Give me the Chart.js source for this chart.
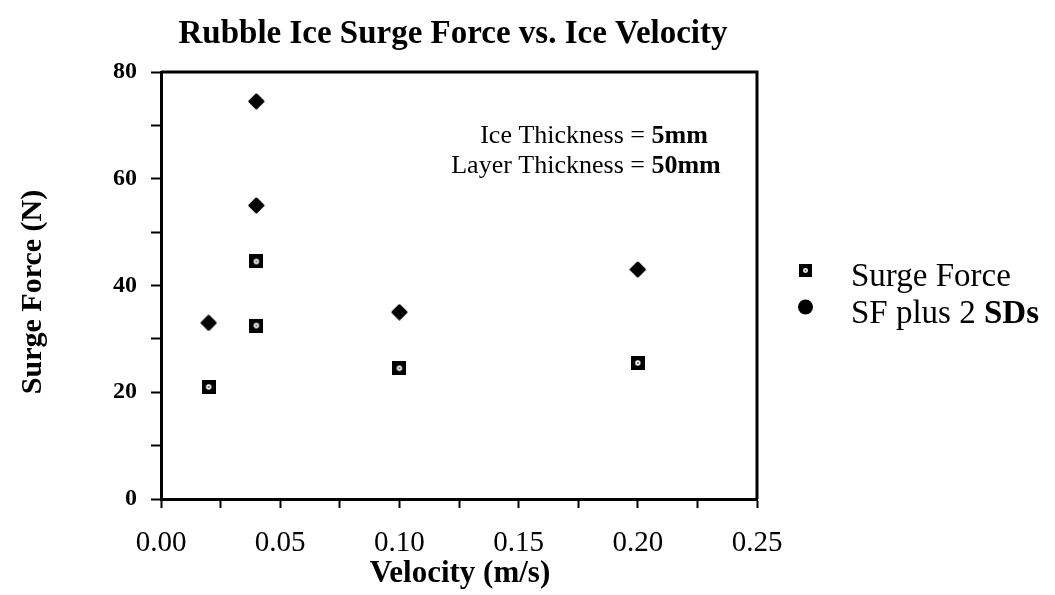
<!DOCTYPE html>
<html>
<head>
<meta charset="utf-8">
<script src="https://cdn.jsdelivr.net/npm/chart.js@4"></script>
<style>
  body { margin: 0; background: #fff; }
  #wrap { width: 1055px; height: 595px; }
</style>
</head>
<body>
<div id="wrap"><canvas id="surgeChart" width="1055" height="595"></canvas></div>
<script>
// Data
const velocities = [0.02, 0.04, 0.04, 0.10, 0.20];
const surgeForce = [21, 32.5, 44.5, 24.5, 25.5];
const sfPlus2SD = [33, 55, 74.5, 35, 43];
const xTickLabels = ['0.00', '0.05', '0.10', '0.15', '0.20', '0.25'];
const yTickLabels = [0, 20, 40, 60, 80];
const seriesNames = ['Surge Force', 'SF plus 2 SDs'];

const serif = '"Liberation Serif", "DejaVu Serif", serif';

// square marker with hollow centre
function squareMarker(size) {
    const c = document.createElement('canvas');
    c.width = size; c.height = size;
    const g = c.getContext('2d');
    g.fillStyle = '#000';
    g.fillRect(0, 0, size, size);
    g.fillStyle = '#fff';
    g.beginPath();
    g.arc(size / 2, size / 2, size * 0.19, 0, Math.PI * 2);
    g.fill();
    g.fillStyle = '#444';
    g.beginPath();
    g.arc(size / 2, size / 2, size * 0.07, 0, Math.PI * 2);
    g.fill();
    return c;
}

// rounded diamond marker
function diamondMarker(size) {
    const c = document.createElement('canvas');
    c.width = size; c.height = size;
    const g = c.getContext('2d');
    const m = size / 2, r = size / 2 - 2;
    g.fillStyle = '#000';
    g.strokeStyle = '#000';
    g.lineWidth = 3;
    g.lineJoin = 'round';
    g.beginPath();
    g.moveTo(m, m - r);
    g.lineTo(m + r, m);
    g.lineTo(m, m + r);
    g.lineTo(m - r, m);
    g.closePath();
    g.fill();
    g.stroke();
    return c;
}

const sqImg = squareMarker(14);
const dmImg = diamondMarker(17);

const decorations = {
    id: 'decorations',
    afterDraw(chart) {
        const ctx = chart.ctx;
        const a = chart.chartArea;
        ctx.save();
        // top and right frame
        ctx.strokeStyle = '#000';
        ctx.lineWidth = 3;
        ctx.beginPath();
        ctx.moveTo(a.left, a.top);
        ctx.lineTo(a.right, a.top);
        ctx.lineTo(a.right, a.bottom);
        ctx.stroke();

        ctx.fillStyle = '#000';
        ctx.textBaseline = 'alphabetic';

        // title
        ctx.font = 'bold 33px ' + serif;
        ctx.textAlign = 'center';
        ctx.fillText('Rubble Ice Surge Force vs. Ice Velocity', 453, 43);

        // x axis title
        ctx.font = 'bold 31px ' + serif;
        ctx.fillText('Velocity (m/s)', 460, 582);

        // y axis title
        ctx.save();
        ctx.translate(41, 292);
        ctx.rotate(-Math.PI / 2);
        ctx.font = 'bold 30px ' + serif;
        ctx.fillText('Surge Force (N)', 0, 0);
        ctx.restore();

        // text with bold parts, centred on cx
        function mixed(parts, cx, y, size) {
            let w = 0;
            parts.forEach(p => { ctx.font = p[1] + ' ' + size + 'px ' + serif; w += ctx.measureText(p[0]).width; });
            let x = cx - w / 2;
            ctx.textAlign = 'left';
            parts.forEach(p => {
                ctx.font = p[1] + ' ' + size + 'px ' + serif;
                ctx.fillText(p[0], x, y);
                x += ctx.measureText(p[0]).width;
            });
            return x;
        }
        mixed([['Ice Thickness = ', 'normal'], ['5mm', 'bold']], 594, 143, 26);
        mixed([['Layer Thickness = ', 'normal'], ['50mm', 'bold']], 586, 173, 26);

        // legend
        ctx.drawImage(squareMarker(13), 799, 264);
        ctx.beginPath();
        ctx.arc(805.5, 307, 7.5, 0, Math.PI * 2);
        ctx.fill();
        ctx.font = '33px ' + serif;
        ctx.textAlign = 'left';
        ctx.fillText(seriesNames[0], 851, 286);
        const pre = 'SF plus 2 ';
        ctx.fillText(pre, 851, 323);
        const px = 851 + ctx.measureText(pre).width;
        ctx.font = 'bold 33px ' + serif;
        ctx.fillText('SDs', px, 323);
        ctx.restore();
    }
};

const ctx = document.getElementById('surgeChart').getContext('2d');
const surgeChart = new Chart(ctx, {
    type: 'scatter',
    data: {
        datasets: [
            {
                label: seriesNames[0],
                data: velocities.map((v, i) => ({ x: v, y: surgeForce[i] })),
                pointStyle: sqImg,
                backgroundColor: '#000',
                borderColor: '#000'
            },
            {
                label: seriesNames[1],
                data: velocities.map((v, i) => ({ x: v, y: sfPlus2SD[i] })),
                pointStyle: dmImg,
                backgroundColor: '#000',
                borderColor: '#000'
            }
        ]
    },
    options: {
        responsive: false,
        animation: false,
        layout: { padding: { left: 0, top: 72, right: 298, bottom: 0 } },
        plugins: {
            legend: { display: false },
            tooltip: { enabled: false }
        },
        scales: {
            x: {
                type: 'linear',
                min: 0,
                max: 0.25,
                afterFit: s => { s.height = 96; },
                border: { display: true, color: '#000', width: 3 },
                grid: { drawOnChartArea: false, drawTicks: true, tickLength: 9, tickWidth: 2, tickColor: '#000' },
                ticks: {
                    stepSize: 0.025,
                    autoSkip: false,
                    maxRotation: 0,
                    padding: 18,
                    color: '#000',
                    font: { family: serif, size: 29 },
                    callback: v => {
                        const k = Math.round(v * 1000);
                        return k % 50 === 0 ? xTickLabels[k / 50] : '';
                    }
                }
            },
            y: {
                min: 0,
                max: 80,
                afterFit: s => { s.width = 161; },
                border: { display: true, color: '#000', width: 3 },
                grid: { drawOnChartArea: false, drawTicks: true, tickLength: 10, tickWidth: 2, tickColor: '#000' },
                ticks: {
                    stepSize: 10,
                    autoSkip: false,
                    padding: 14,
                    color: '#000',
                    font: { family: serif, size: 24, weight: 'bold' },
                    callback: v => (yTickLabels.includes(v) ? String(v) : '')
                }
            }
        }
    },
    plugins: [decorations]
});
</script>
</body>
</html>
